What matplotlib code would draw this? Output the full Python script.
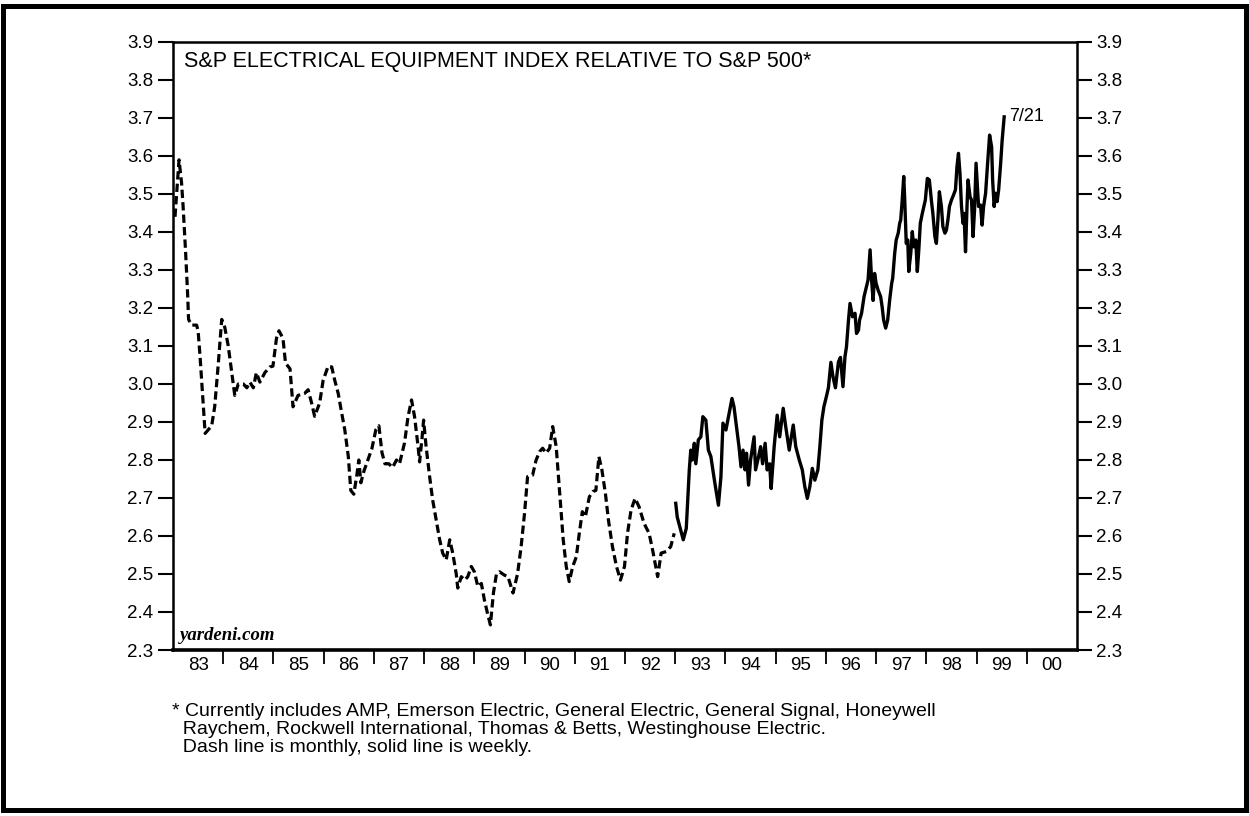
import matplotlib
matplotlib.use("Agg")
import matplotlib.pyplot as plt
from matplotlib.patches import Rectangle
from matplotlib.ticker import FixedLocator, NullFormatter

plt.rcParams['font.family'] = ['Liberation Sans', 'DejaVu Sans']

# ---- data ----
monthly_year = [1983.04, 1983.12, 1983.17, 1983.20, 1983.25, 1983.29, 1983.31, 1983.37, 1983.47, 1983.50,
                1983.54, 1983.57, 1983.64, 1983.77, 1983.83, 1983.90, 1983.97, 1984.03, 1984.10, 1984.17,
                1984.23, 1984.30, 1984.40, 1984.47, 1984.53, 1984.60, 1984.66, 1984.73, 1984.83, 1984.93,
                1984.99, 1985.06, 1985.11, 1985.19, 1985.24, 1985.33, 1985.39, 1985.49, 1985.62, 1985.69,
                1985.76, 1985.82, 1985.92, 1985.99, 1986.09, 1986.16, 1986.22, 1986.29, 1986.35, 1986.42,
                1986.49, 1986.54, 1986.60, 1986.66, 1986.70, 1986.74, 1986.80, 1986.88, 1986.96, 1987.04,
                1987.10, 1987.16, 1987.22, 1987.30, 1987.37, 1987.45, 1987.51, 1987.61, 1987.68, 1987.75,
                1987.81, 1987.88, 1987.91, 1987.96, 1987.99, 1988.04, 1988.11, 1988.17, 1988.24, 1988.31,
                1988.37, 1988.44, 1988.51, 1988.57, 1988.64, 1988.67, 1988.74, 1988.81, 1988.87, 1988.94,
                1989.00, 1989.07, 1989.14, 1989.20, 1989.27, 1989.32, 1989.38, 1989.44, 1989.50, 1989.60,
                1989.67, 1989.77, 1989.86, 1989.93, 1990.00, 1990.06, 1990.16, 1990.23, 1990.30, 1990.36,
                1990.43, 1990.50, 1990.56, 1990.63, 1990.68, 1990.73, 1990.77, 1990.83, 1990.89, 1990.96,
                1991.03, 1991.09, 1991.15, 1991.21, 1991.29, 1991.36, 1991.42, 1991.48, 1991.54, 1991.61,
                1991.67, 1991.75, 1991.83, 1991.91, 1991.99, 1992.05, 1992.12, 1992.20, 1992.28, 1992.38,
                1992.48, 1992.55, 1992.65, 1992.72, 1992.82, 1992.91, 1992.98]
monthly_value = [3.44, 3.59, 3.53, 3.47, 3.35, 3.24, 3.17, 3.155, 3.155, 3.14,
                 3.07, 3.01, 2.87, 2.89, 2.94, 3.05, 3.17, 3.15, 3.10, 3.03,
                 2.97, 3.00, 3.00, 2.99, 3.005, 2.99, 3.03, 3.005, 3.03, 3.045,
                 3.047, 3.12, 3.14, 3.12, 3.055, 3.04, 2.94, 2.97, 2.975, 2.985,
                 2.95, 2.915, 2.95, 3.01, 3.047, 3.045, 3.01, 2.975, 2.93, 2.88,
                 2.81, 2.72, 2.71, 2.76, 2.80, 2.74, 2.77, 2.80, 2.83, 2.88,
                 2.89, 2.82, 2.79, 2.79, 2.78, 2.80, 2.79, 2.845, 2.914, 2.958,
                 2.914, 2.835, 2.795, 2.86, 2.905, 2.835, 2.756, 2.695, 2.642, 2.59,
                 2.555, 2.537, 2.59, 2.555, 2.50, 2.463, 2.493, 2.484, 2.493, 2.52,
                 2.506, 2.467, 2.475, 2.432, 2.392, 2.366, 2.45, 2.50, 2.506, 2.497,
                 2.493, 2.45, 2.50, 2.57, 2.66, 2.756, 2.76, 2.80, 2.822, 2.831,
                 2.818, 2.831, 2.888, 2.835, 2.747, 2.66, 2.59, 2.52, 2.48, 2.52,
                 2.545, 2.607, 2.664, 2.65, 2.703, 2.717, 2.72, 2.809, 2.774, 2.712,
                 2.642, 2.572, 2.52, 2.484, 2.52, 2.607, 2.668, 2.699, 2.677, 2.633,
                 2.607, 2.563, 2.493, 2.555, 2.559, 2.572, 2.607]

weekly_year = [1993.01, 1993.04, 1993.10, 1993.16, 1993.22, 1993.28, 1993.31, 1993.34, 1993.38, 1993.41,
               1993.46, 1993.51, 1993.55, 1993.61, 1993.66, 1993.71, 1993.78, 1993.86, 1993.91, 1993.95,
               1994.01, 1994.06, 1994.13, 1994.17, 1994.22, 1994.27, 1994.31, 1994.35, 1994.39, 1994.42,
               1994.46, 1994.50, 1994.57, 1994.60, 1994.66, 1994.70, 1994.74, 1994.79, 1994.83, 1994.88,
               1994.91, 1994.97, 1995.03, 1995.08, 1995.15, 1995.20, 1995.27, 1995.35, 1995.40, 1995.47,
               1995.53, 1995.58, 1995.63, 1995.68, 1995.73, 1995.78, 1995.84, 1995.88, 1995.92, 1995.96,
               1996.01, 1996.05, 1996.10, 1996.14, 1996.19, 1996.25, 1996.29, 1996.34, 1996.38, 1996.41,
               1996.45, 1996.48, 1996.53, 1996.58, 1996.61, 1996.65, 1996.67, 1996.71, 1996.76, 1996.80,
               1996.84, 1996.88, 1996.91, 1996.94, 1996.97, 1997.00, 1997.04, 1997.09, 1997.12, 1997.15,
               1997.19, 1997.23, 1997.27, 1997.31, 1997.33, 1997.37, 1997.40, 1997.44, 1997.47, 1997.49,
               1997.52, 1997.55, 1997.57, 1997.60, 1997.63, 1997.65, 1997.69, 1997.72, 1997.75, 1997.79,
               1997.82, 1997.85, 1997.88, 1997.92, 1997.95, 1997.98, 1998.02, 1998.06, 1998.10, 1998.13,
               1998.17, 1998.20, 1998.23, 1998.26, 1998.30, 1998.33, 1998.37, 1998.40, 1998.43, 1998.46,
               1998.50, 1998.54, 1998.58, 1998.61, 1998.64, 1998.67, 1998.70, 1998.73, 1998.75, 1998.78,
               1998.81, 1998.83, 1998.87, 1998.90, 1998.93, 1998.96, 1998.99, 1999.01, 1999.04, 1999.08,
               1999.11, 1999.14, 1999.18, 1999.22, 1999.26, 1999.30, 1999.32, 1999.35, 1999.38, 1999.41,
               1999.44, 1999.48, 1999.51, 1999.55]
weekly_value = [2.686, 2.65, 2.62, 2.59, 2.62, 2.774, 2.826, 2.80, 2.844, 2.79,
                2.853, 2.861, 2.914, 2.905, 2.826, 2.809, 2.747, 2.681, 2.756, 2.897,
                2.879, 2.914, 2.962, 2.94, 2.888, 2.835, 2.782, 2.826, 2.774, 2.818,
                2.734, 2.80, 2.861, 2.774, 2.809, 2.835, 2.79, 2.844, 2.774, 2.79,
                2.725, 2.835, 2.918, 2.861, 2.936, 2.888, 2.826, 2.892, 2.835, 2.80,
                2.774, 2.73, 2.699, 2.73, 2.778, 2.747, 2.774, 2.835, 2.905, 2.94,
                2.967, 2.99, 3.057, 3.02, 2.99, 3.058, 3.07, 2.993, 3.072, 3.098,
                3.168, 3.212, 3.177, 3.186, 3.133, 3.142, 3.168, 3.186, 3.230, 3.252,
                3.274, 3.353, 3.274, 3.22, 3.291, 3.265, 3.247, 3.230, 3.203, 3.168,
                3.147, 3.168, 3.221, 3.265, 3.278, 3.344, 3.379, 3.397, 3.423, 3.432,
                3.484, 3.546, 3.484, 3.37, 3.379, 3.296, 3.344, 3.401, 3.361, 3.379,
                3.296, 3.353, 3.423, 3.449, 3.467, 3.484, 3.541, 3.537, 3.484, 3.449,
                3.388, 3.37, 3.432, 3.506, 3.467, 3.414, 3.397, 3.405, 3.432, 3.467,
                3.484, 3.497, 3.511, 3.572, 3.607, 3.554, 3.467, 3.423, 3.449, 3.348,
                3.467, 3.537, 3.493, 3.484, 3.388, 3.458, 3.581, 3.537, 3.467, 3.471,
                3.418, 3.467, 3.502, 3.581, 3.655, 3.624, 3.537, 3.467, 3.502, 3.48,
                3.511, 3.581, 3.642, 3.703]

year_labels = ['83', '84', '85', '86', '87', '88', '89', '90', '91', '92',
               '93', '94', '95', '96', '97', '98', '99', '00']
y_ticks = [2.3, 2.4, 2.5, 2.6, 2.7, 2.8, 2.9, 3.0, 3.1, 3.2, 3.3, 3.4, 3.5, 3.6, 3.7, 3.8, 3.9]

title = "S&P ELECTRICAL EQUIPMENT INDEX RELATIVE TO S&P 500*"
end_label = "7/21"
footnote = ["* Currently includes AMP, Emerson Electric, General Electric, General Signal, Honeywell",
            "  Raychem, Rockwell International, Thomas & Betts, Westinghouse Electric.",
            "  Dash line is monthly, solid line is weekly."]

# ---- figure ----
W, H = 1249, 816
fig = plt.figure(figsize=(W / 100, H / 100), dpi=100)
fig.patch.set_facecolor('white')

ax = fig.add_axes([173 / W, 1 - 650 / H, 904 / W, 608 / H])
ax.plot(monthly_year, monthly_value, color='black', lw=2.3,
        linestyle=(0, (2.6, 1.3)), dash_capstyle='butt')
ax.plot(weekly_year, weekly_value, color='black', lw=2.4)

ax.set_xlim(1983, 2001)
ax.set_ylim(2.3, 3.9)

for s in ax.spines.values():
    s.set_linewidth(1.8)
ax.spines['bottom'].set_linewidth(2.6)

ax.set_yticks(y_ticks)
ax.set_yticklabels([f"{v:.1f}" for v in y_ticks])
ax.tick_params(axis='y', which='both', direction='out', length=11, width=1.5,
               left=True, right=True, labelleft=True, labelright=True,
               labelsize=13.5, pad=3)

start = 1983
ax.set_xticks([start + i + 0.5 for i in range(len(year_labels))])
ax.set_xticklabels(year_labels)
ax.xaxis.set_minor_locator(FixedLocator([start + i for i in range(1, len(year_labels))]))
ax.xaxis.set_minor_formatter(NullFormatter())
ax.tick_params(axis='x', which='major', length=0, labelsize=13.5, pad=5)
ax.tick_params(axis='x', which='minor', direction='out', length=10, width=1.3)

ax.text(11 / 904, 1 - 20 / 608, title, transform=ax.transAxes,
        fontsize=15.5, va='center', ha='left')
ax.text(7 / 904, 15 / 608, "yardeni.com", transform=ax.transAxes,
        fontsize=13.5, fontweight='bold', fontstyle='italic',
        family=['Liberation Serif', 'DejaVu Serif'], va='center', ha='left')
ax.text(weekly_year[-1] + 0.09, weekly_value[-1], end_label, fontsize=13,
        va='center', ha='left')

fig.text(172 / W, 1 - 703 / H, "\n".join(footnote), fontsize=14,
         va='top', ha='left', linespacing=1.06)

fig.patches.append(Rectangle((3.5 / W, 6 / H), (1245.5 - 3.5) / W, (810 - 6) / H,
                             transform=fig.transFigure, fill=False,
                             edgecolor='black', lw=3.6))

fig.savefig("out.png", dpi=100, facecolor='white')
